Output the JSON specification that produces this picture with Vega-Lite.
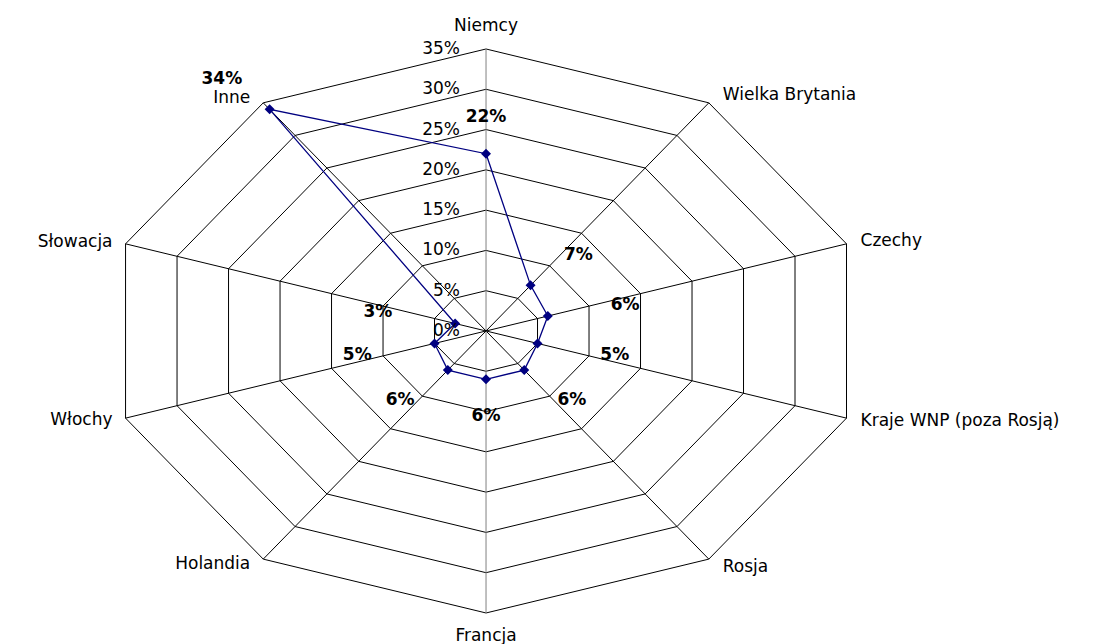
{
  "$schema": "https://vega.github.io/schema/vega-lite/v6.json",
  "width": 1111,
  "height": 644,
  "autosize": {"type": "none"},
  "padding": 0,
  "background": "#ffffff",
  "config": {"view": {"stroke": null}, "font": "DejaVu Sans"},
  "datasets": {
    "udzialy": [
      {"kraj": "Niemcy", "idx": 0, "udzial": 22},
      {"kraj": "Wielka Brytania", "idx": 1, "udzial": 7},
      {"kraj": "Czechy", "idx": 2, "udzial": 6},
      {"kraj": "Kraje WNP (poza Rosją)", "idx": 3, "udzial": 5},
      {"kraj": "Rosja", "idx": 4, "udzial": 6},
      {"kraj": "Francja", "idx": 5, "udzial": 6},
      {"kraj": "Holandia", "idx": 6, "udzial": 6},
      {"kraj": "Włochy", "idx": 7, "udzial": 5},
      {"kraj": "Słowacja", "idx": 8, "udzial": 3},
      {"kraj": "Inne", "idx": 9, "udzial": 34}
    ],
    "siatka": [
      {"idx": 0, "poziom": [5, 10, 15, 20, 25, 30, 35]},
      {"idx": 1, "poziom": [5, 10, 15, 20, 25, 30, 35]},
      {"idx": 2, "poziom": [5, 10, 15, 20, 25, 30, 35]},
      {"idx": 3, "poziom": [5, 10, 15, 20, 25, 30, 35]},
      {"idx": 4, "poziom": [5, 10, 15, 20, 25, 30, 35]},
      {"idx": 5, "poziom": [5, 10, 15, 20, 25, 30, 35]},
      {"idx": 6, "poziom": [5, 10, 15, 20, 25, 30, 35]},
      {"idx": 7, "poziom": [5, 10, 15, 20, 25, 30, 35]},
      {"idx": 8, "poziom": [5, 10, 15, 20, 25, 30, 35]},
      {"idx": 9, "poziom": [5, 10, 15, 20, 25, 30, 35]}
    ],
    "skala": [
      {"poziom": 0}, {"poziom": 5}, {"poziom": 10}, {"poziom": 15},
      {"poziom": 20}, {"poziom": 25}, {"poziom": 30}, {"poziom": 35}
    ]
  },
  "encoding": {
    "x": {"field": "x", "type": "quantitative", "scale": {"domain": [-44.88, 57.71], "nice": false, "zero": false}, "axis": null},
    "y": {"field": "y", "type": "quantitative", "scale": {"domain": [-38.85, 41.08], "nice": false, "zero": false}, "axis": null}
  },
  "layer": [
    {
      "data": {"name": "siatka"},
      "transform": [
        {"flatten": ["poziom"]},
        {"calculate": "datum.poziom * sin(datum.idx * PI / 5)", "as": "x"},
        {"calculate": "datum.poziom * cos(datum.idx * PI / 5)", "as": "y"}
      ],
      "mark": {"type": "line", "interpolate": "linear-closed", "stroke": "#000000", "strokeWidth": 1},
      "encoding": {
        "detail": {"field": "poziom", "type": "nominal"},
        "order": {"field": "idx", "type": "quantitative"}
      }
    },
    {
      "data": {"name": "siatka"},
      "transform": [
        {"calculate": "35 * sin(datum.idx * PI / 5)", "as": "x"},
        {"calculate": "35 * cos(datum.idx * PI / 5)", "as": "y"}
      ],
      "mark": {"type": "rule", "strokeWidth": 1},
      "encoding": {
        "x2": {"datum": 0},
        "y2": {"datum": 0},
        "color": {"condition": {"test": "datum.idx == 0 || datum.idx == 5", "value": "#808080"}, "value": "#000000"}
      }
    },
    {
      "data": {"name": "udzialy"},
      "transform": [
        {"calculate": "datum.udzial * sin(datum.idx * PI / 5)", "as": "x"},
        {"calculate": "datum.udzial * cos(datum.idx * PI / 5)", "as": "y"}
      ],
      "mark": {"type": "line", "interpolate": "linear-closed", "stroke": "#000080", "strokeWidth": 1.3},
      "encoding": {"order": {"field": "idx", "type": "quantitative"}}
    },
    {
      "data": {"name": "udzialy"},
      "transform": [
        {"calculate": "datum.udzial * sin(datum.idx * PI / 5)", "as": "x"},
        {"calculate": "datum.udzial * cos(datum.idx * PI / 5)", "as": "y"}
      ],
      "mark": {"type": "point", "shape": "diamond", "filled": true, "size": 100, "color": "#000080", "opacity": 1},
      "encoding": {}
    },
    {
      "data": {"name": "skala"},
      "transform": [
        {"calculate": "0", "as": "x"},
        {"calculate": "datum.poziom", "as": "y"},
        {"calculate": "datum.poziom + '%'", "as": "etykieta"}
      ],
      "mark": {"type": "text", "align": "right", "baseline": "middle", "dx": -26, "fontSize": 17, "color": "#000000"},
      "encoding": {"text": {"field": "etykieta"}}
    },
    {
      "data": {"name": "udzialy"},
      "transform": [
        {"filter": "datum.idx >= 1 && datum.idx <= 4"},
        {"calculate": "35 * sin(datum.idx * PI / 5)", "as": "x"},
        {"calculate": "36.24 * cos(datum.idx * PI / 5)", "as": "y"}
      ],
      "mark": {"type": "text", "align": "left", "baseline": "middle", "dx": 14, "fontSize": 17, "color": "#000000"},
      "encoding": {"text": {"field": "kraj"}}
    },
    {
      "data": {"name": "udzialy"},
      "transform": [
        {"filter": "datum.idx >= 6"},
        {"calculate": "35 * sin(datum.idx * PI / 5)", "as": "x"},
        {"calculate": "35.8 * cos(datum.idx * PI / 5)", "as": "y"}
      ],
      "mark": {"type": "text", "align": "right", "baseline": "middle", "dx": -13, "fontSize": 17, "color": "#000000"},
      "encoding": {"text": {"field": "kraj"}}
    },
    {
      "data": {"name": "udzialy"},
      "transform": [
        {"filter": "datum.idx == 0 || datum.idx == 5"},
        {"calculate": "0", "as": "x"},
        {"calculate": "37.85 * cos(datum.idx * PI / 5)", "as": "y"}
      ],
      "mark": {"type": "text", "align": "center", "baseline": "middle", "fontSize": 17, "color": "#000000"},
      "encoding": {"text": {"field": "kraj"}}
    },
    {
      "data": {"name": "udzialy"},
      "transform": [
        {"calculate": "(datum.udzial + 7.5) * sin(datum.idx * PI / 5)", "as": "x"},
        {"calculate": "(datum.udzial + 4.6) * cos(datum.idx * PI / 5)", "as": "y"},
        {"calculate": "datum.udzial + '%'", "as": "etykieta"}
      ],
      "mark": {"type": "text", "align": "center", "baseline": "middle", "fontSize": 17, "fontWeight": "bold", "color": "#000000"},
      "encoding": {"text": {"field": "etykieta"}}
    }
  ]
}
